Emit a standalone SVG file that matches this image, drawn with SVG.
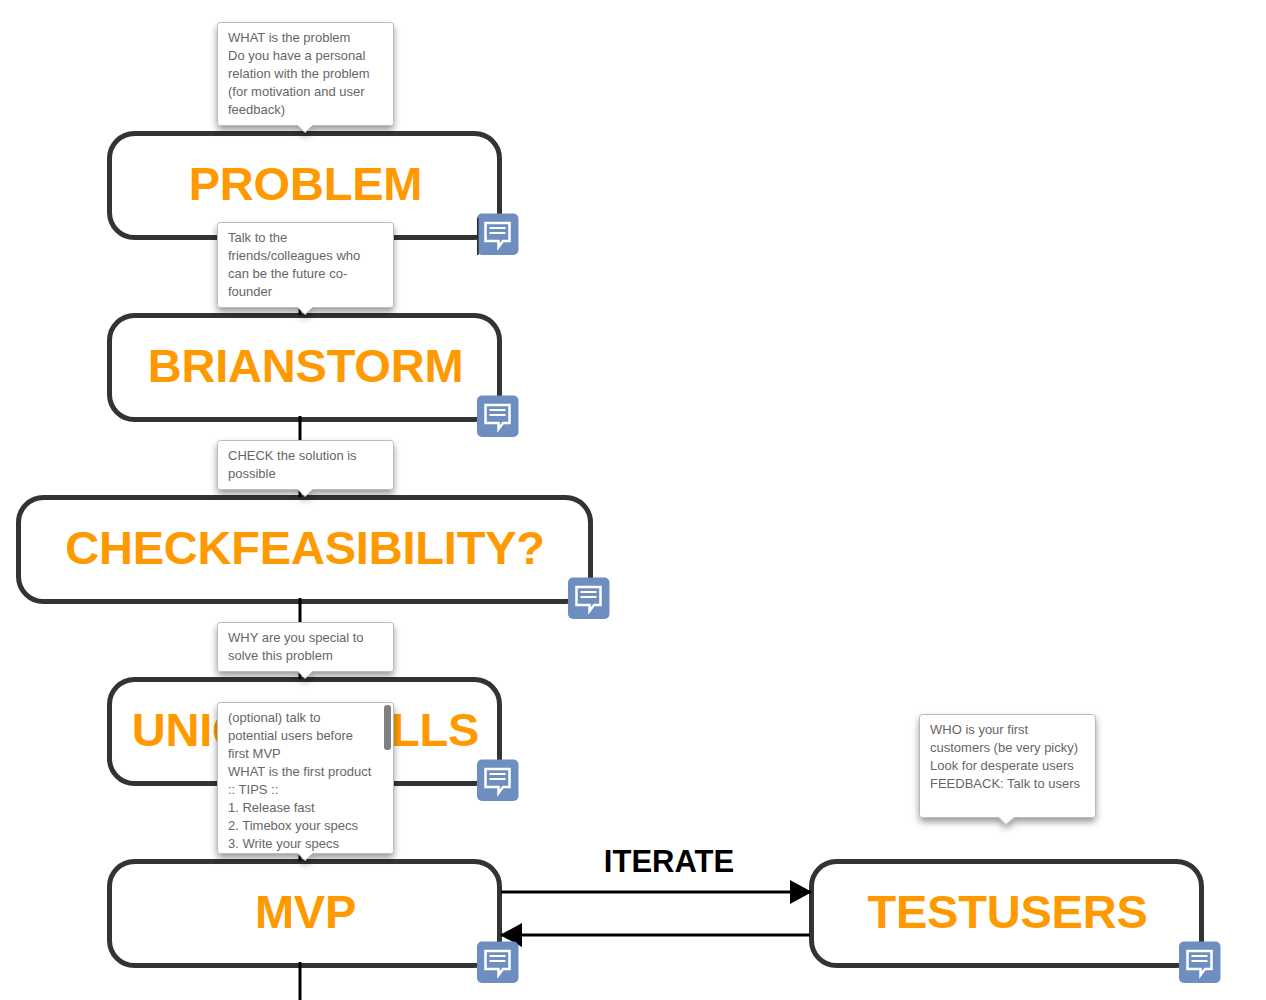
<svg xmlns="http://www.w3.org/2000/svg" width="1266" height="1000" viewBox="0 0 1266 1000">
<defs>
<style>
.box{fill:#fff;stroke:#333;stroke-width:5}
.lab{font:bold 47px "Liberation Sans",Arial,sans-serif;fill:#f90;text-anchor:middle;letter-spacing:-0.2px}
.tip{fill:#fff;stroke:#bbb;stroke-width:1;filter:url(#sh)}
.tt{font:13px "Liberation Sans",Arial,sans-serif;fill:#666}
.c{fill:none;stroke:#000;stroke-width:3}
.ib{fill:#6d8ebf}
.ig{fill:none;stroke:#fff;stroke-width:2.500}
</style>
<filter id="sh" x="-20%" y="-20%" width="140%" height="150%"><feDropShadow dx="0" dy="4" stdDeviation="3.500" flood-color="#000" flood-opacity="0.4"/></filter>
<marker id="ah" markerUnits="userSpaceOnUse" markerWidth="22" markerHeight="24" refX="21" refY="12" orient="auto"><path d="M0 0L22 12L0 24Z" fill="#000"/></marker>
<g id="icon"><rect class="ib" width="41.500" height="41.500" rx="5"/><path class="ig" d="M8.500 9.500H32.500V27.500H26L21.500 33.500V27.500H8.500Z"/><path d="M12.500 14.500H28.500M12.500 19.500H28.500" stroke="#fff" stroke-width="2" fill="none"/></g>
<clipPath id="clip5"><rect x="218" y="703" width="175" height="150" rx="3"/></clipPath>
</defs>
<g id="node-problem"><rect class="box" x="109.500" y="133.500" width="390" height="104" rx="25"/><text class="lab" x="305.500" y="200">PROBLEM</text></g>
<g id="node-brainstorm"><rect class="box" x="109.500" y="315.500" width="390" height="104" rx="25"/><text class="lab" x="305.500" y="382">BRIANSTORM</text></g>
<g id="node-check"><rect class="box" x="18.500" y="497.500" width="572" height="104" rx="25"/><text class="lab" x="305" y="564">CHECKFEASIBILITY?</text></g>
<g id="node-unique"><rect class="box" x="109.500" y="679.500" width="390" height="104" rx="25"/><text class="lab" x="305.500" y="746">UNIQUESKILLS</text></g>
<g id="node-mvp"><rect class="box" x="109.500" y="861.500" width="390" height="104" rx="25"/><text class="lab" x="305.500" y="928">MVP</text></g>
<g id="node-testusers"><rect class="box" x="811.500" y="861.500" width="390" height="104" rx="25"/><text class="lab" x="1007.500" y="928">TESTUSERS</text></g>
<g id="connectors">
<path class="c" d="M300 238V315M300 416V497M300 598V679M300 780V861M300 962V1000"/>
<path class="c" stroke-width="2.500" d="M501 892H811" marker-end="url(#ah)"/>
<path class="c" stroke-width="2.500" d="M810 935H501" marker-end="url(#ah)"/>
<text x="669" y="872" text-anchor="middle" style="font:bold 31px 'Liberation Sans',Arial,sans-serif;fill:#000">ITERATE</text>
</g>
<g id="icon-problem"><use href="#icon" x="477" y="213.500"/></g>
<g id="icon-brainstorm"><use href="#icon" x="477" y="395.500"/></g>
<g id="icon-check"><use href="#icon" x="568" y="577.500"/></g>
<g id="icon-unique"><use href="#icon" x="477" y="759.500"/></g>
<g id="icon-mvp"><use href="#icon" x="477" y="941.500"/></g>
<g id="icon-testusers"><use href="#icon" x="1179" y="941.500"/></g>
<g id="connector-stub"><path d="M477.800 218V255" stroke="#222" stroke-width="1.500"/></g>
<g id="tip-problem"><path class="tip" d="M220.500 22.500H390.500Q393.500 22.500 393.500 25.500V122.500Q393.500 125.500 390.500 125.500H312.500L305 132.500L298 125.500H220.500Q217.500 125.500 217.500 122.500V25.500Q217.500 22.500 220.500 22.500Z"/>
<text class="tt" x="228" y="41.500">WHAT is the problem</text><text class="tt" x="228" y="59.500">Do you have a personal</text><text class="tt" x="228" y="77.500">relation with the problem</text><text class="tt" x="228" y="95.500">(for motivation and user</text><text class="tt" x="228" y="113.500">feedback)</text></g>
<g id="tip-brainstorm"><path class="tip" d="M220.500 222.500H390.500Q393.500 222.500 393.500 225.500V304.500Q393.500 307.500 390.500 307.500H312.500L305 314.500L298 307.500H220.500Q217.500 307.500 217.500 304.500V225.500Q217.500 222.500 220.500 222.500Z"/>
<text class="tt" x="228" y="241.500">Talk to the</text><text class="tt" x="228" y="259.500">friends/colleagues who</text><text class="tt" x="228" y="277.500">can be the future co-</text><text class="tt" x="228" y="295.500">founder</text></g>
<g id="tip-check"><path class="tip" d="M220.500 440.500H390.500Q393.500 440.500 393.500 443.500V486.500Q393.500 489.500 390.500 489.500H312.500L305 496.500L298 489.500H220.500Q217.500 489.500 217.500 486.500V443.500Q217.500 440.500 220.500 440.500Z"/>
<text class="tt" x="228" y="459.500">CHECK the solution is</text><text class="tt" x="228" y="477.500">possible</text></g>
<g id="tip-unique"><path class="tip" d="M220.500 622.500H390.500Q393.500 622.500 393.500 625.500V668.500Q393.500 671.500 390.500 671.500H312.500L305 678.500L298 671.500H220.500Q217.500 671.500 217.500 668.500V625.500Q217.500 622.500 220.500 622.500Z"/>
<text class="tt" x="228" y="641.500">WHY are you special to</text><text class="tt" x="228" y="659.500">solve this problem</text></g>
<g id="tip-mvp"><path class="tip" d="M220.500 702.500H390.500Q393.500 702.500 393.500 705.500V850.500Q393.500 853.500 390.500 853.500H312.500L305 860.500L298 853.500H220.500Q217.500 853.500 217.500 850.500V705.500Q217.500 702.500 220.500 702.500Z"/>
<g clip-path="url(#clip5)"><text class="tt" x="228" y="721.500">(optional) talk to</text><text class="tt" x="228" y="739.500">potential users before</text><text class="tt" x="228" y="757.500">first MVP</text><text class="tt" x="228" y="775.500">WHAT is the first product</text><text class="tt" x="228" y="793.500">:: TIPS ::</text><text class="tt" x="228" y="811.500">1. Release fast</text><text class="tt" x="228" y="829.500">2. Timebox your specs</text><text class="tt" x="228" y="847.500">3. Write your specs</text></g>
<rect x="384" y="705" width="7" height="45" rx="3" fill="#808080"/></g>
<g id="tip-testusers"><path class="tip" d="M922.500 714.500H1092.500Q1095.500 714.500 1095.500 717.500V814.500Q1095.500 817.500 1092.500 817.500H1014L1006 824.500L999 817.500H922.500Q919.500 817.500 919.500 814.500V717.500Q919.500 714.500 922.500 714.500Z"/>
<text class="tt" x="930" y="733.500">WHO is your first</text><text class="tt" x="930" y="751.500">customers (be very picky)</text><text class="tt" x="930" y="769.500">Look for desperate users</text><text class="tt" x="930" y="787.500">FEEDBACK: Talk to users</text></g>
</svg>
